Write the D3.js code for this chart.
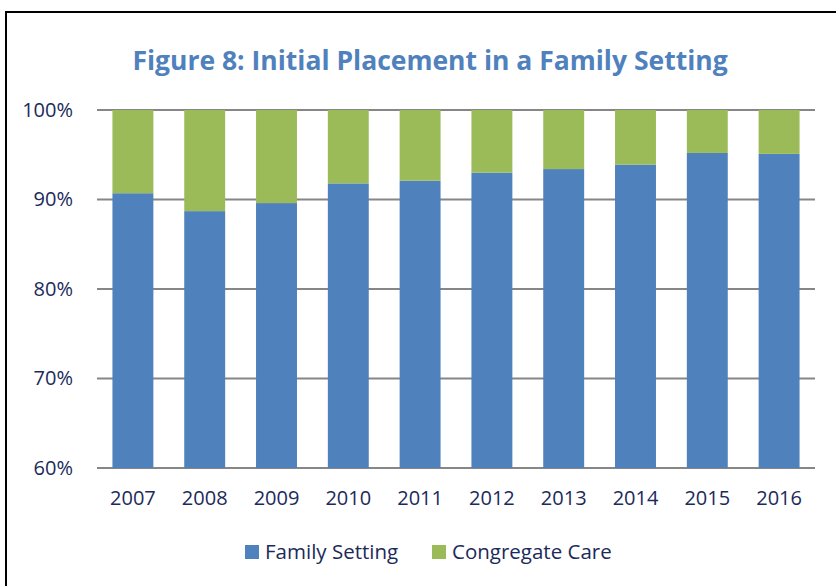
<!DOCTYPE html>
<html>
<head>
<meta charset="utf-8">
<script src="https://d3js.org/d3.v7.min.js"></script>
<style>
body { margin: 0; background: #fff; }
svg text { font-family: "Open Sans", "Noto Sans", sans-serif; }
.tick text { fill: #1b2a5a; font-size: 20px; }
.grid line { stroke: #868686; stroke-width: 2px; }
</style>
</head>
<body>
<svg width="836" height="586"></svg>
<script>
var years = ["2007", "2008", "2009", "2010", "2011", "2012", "2013", "2014", "2015", "2016"];
var familySetting = [90.7, 88.7, 89.6, 91.8, 92.1, 93.0, 93.4, 93.9, 95.2, 95.1];
var congregateCare = [9.3, 11.3, 10.4, 8.2, 7.9, 7.0, 6.6, 6.1, 4.8, 4.9];
var yTicks = [60, 70, 80, 90, 100];
var seriesNames = ["Family Setting", "Congregate Care"];
var colors = ["#4f81bd", "#9bbb59"];

var svg = d3.select("svg");

// chart border (only top and left visible in the crop)
svg.append("path")
    .attr("d", "M6,586 V12 H836")
    .attr("fill", "none")
    .attr("stroke", "#000")
    .attr("stroke-width", 2);

svg.append("text")
    .attr("x", 430)
    .attr("y", 70)
    .attr("text-anchor", "middle")
    .attr("fill", "#4f81bd")
    .style("font-size", "26.5px")
    .style("font-weight", "bold")
    .text("Figure 8: Initial Placement in a Family Setting");

var x = d3.scaleBand()
    .domain(years)
    .range([97, 815])
    .paddingInner(0.43)
    .paddingOuter(0.215);

var y = d3.scaleLinear()
    .domain([60, 100])
    .range([468, 110]);

// gridlines
svg.append("g")
    .attr("class", "grid")
    .selectAll("line")
    .data(yTicks)
    .join("line")
      .attr("x1", 97)
      .attr("x2", 815)
      .attr("y1", function(d) { return y(d); })
      .attr("y2", function(d) { return y(d); });

var stacked = years.map(function(yr, i) {
  return { year: yr, fam: familySetting[i], cong: congregateCare[i] };
});

svg.append("g").selectAll("rect")
    .data(stacked)
    .join("rect")
      .attr("x", function(d) { return x(d.year); })
      .attr("width", x.bandwidth())
      .attr("y", function(d) { return y(d.fam); })
      .attr("height", function(d) { return y(60) - y(d.fam); })
      .attr("fill", colors[0]);

svg.append("g").selectAll("rect")
    .data(stacked)
    .join("rect")
      .attr("x", function(d) { return x(d.year); })
      .attr("width", x.bandwidth())
      .attr("y", function(d) { return y(d.fam + d.cong); })
      .attr("height", function(d) { return y(d.fam) - y(d.fam + d.cong); })
      .attr("fill", colors[1]);

var yAxis = svg.append("g")
    .attr("transform", "translate(97,0)")
    .call(d3.axisLeft(y).tickValues(yTicks).tickSize(0).tickPadding(24)
      .tickFormat(function(d) { return d + "%"; }));
yAxis.select(".domain").remove();

var xAxis = svg.append("g")
    .attr("transform", "translate(0,468)")
    .call(d3.axisBottom(x).tickSize(0).tickPadding(23));
xAxis.select(".domain").remove();

// legend
var legend = svg.append("g").attr("transform", "translate(245,552)");
var lx = [0, 187];
seriesNames.forEach(function(name, i) {
  var item = legend.append("g").attr("transform", "translate(" + lx[i] + ",0)");
  item.append("rect")
      .attr("x", 0).attr("y", -7)
      .attr("width", 14).attr("height", 14)
      .attr("fill", colors[i]);
  item.append("text")
      .attr("x", 20).attr("dy", "0.35em")
      .attr("fill", "#1b2a5a")
      .style("font-size", "20.5px")
      .text(name);
});
</script>
</body>
</html>
